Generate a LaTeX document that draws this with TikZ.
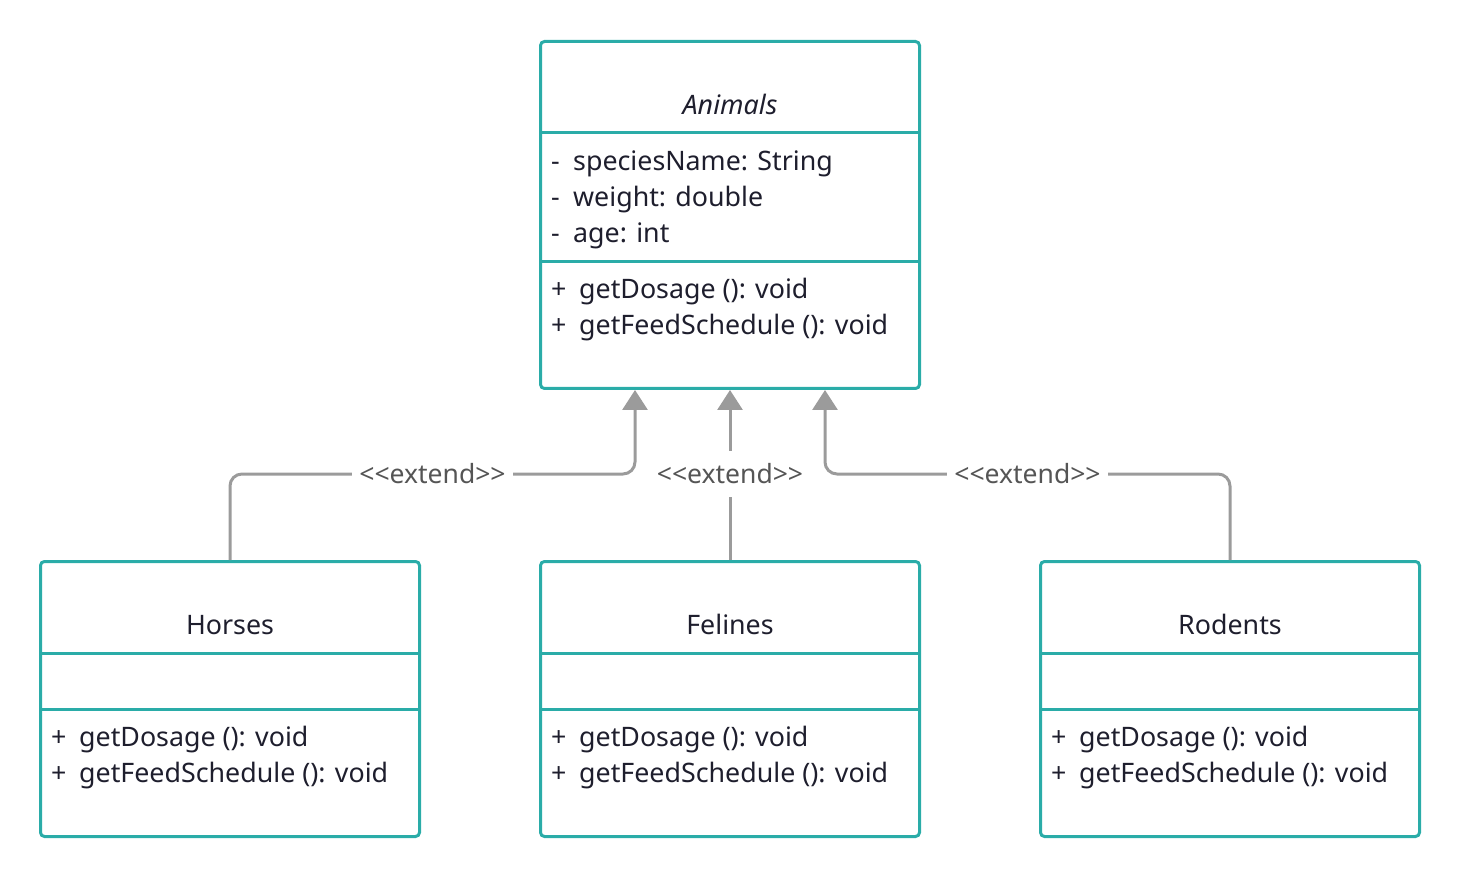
\documentclass[tikz,border=0pt]{standalone}
\usepackage{fontspec}
\setmainfont{Noto Sans}
\usetikzlibrary{positioning}
\usetikzlibrary{arrows.meta}
\usetikzlibrary{calc}
\definecolor{umlteal}{RGB}{42,172,168}
\definecolor{linkgray}{RGB}{155,155,155}
\definecolor{labelgray}{RGB}{85,85,85}
\definecolor{textdark}{RGB}{30,30,45}

\begin{document}
\begin{tikzpicture}[x = 1pt, y = -1pt,
  classbox/.style = {draw = umlteal, line width = 3pt, rounded corners = 4pt, minimum width = 379pt, inner sep = 0pt},
  divider/.style = {draw = umlteal, line width = 3pt},
  member/.style = {anchor = base west, inner sep = 0pt, text = textdark, font = \fontsize{26.8}{30}\selectfont},
  classname/.style = {anchor = base, inner sep = 0pt, text = textdark, font = \fontsize{26.8}{30}\selectfont},
  extendline/.style = {draw = linkgray, line width = 3pt, rounded corners = 12pt},
  extendlabel/.style = {fill = white, text = labelgray, inner xsep = 7pt, inner ysep = 13pt, font = \fontsize{26.5}{28}\selectfont}]

\useasboundingbox (1,0) rectangle (1461,877);

\node[classbox, minimum height = 347pt, anchor = north west] (animals) at (540,40) {};
\node[classbox, minimum height = 275pt, below = 170pt of animals] (felines) {};
\node[classbox, minimum height = 275pt, left = 118pt of felines] (horses) {};
\node[classbox, minimum height = 275pt, right = 118pt of felines] (rodents) {};

\draw[divider] ([yshift = -92.5pt]animals.north west) -- ([yshift = -92.5pt]animals.north east);
\draw[divider] ([yshift = -221.5pt]animals.north west) -- ([yshift = -221.5pt]animals.north east);

\node[classname] (animals-name) at ([yshift = -74.5pt]animals.north) {\itshape Animals};
\node[member] (animals-a1) at ([xshift = 12pt, yshift = -130.5pt]animals.north west) {\makebox[22pt][l]{-}speciesName: String};
\node[member] (animals-a2) at ([xshift = 12pt, yshift = -166.5pt]animals.north west) {\makebox[22pt][l]{-}weight: double};
\node[member] (animals-a3) at ([xshift = 12pt, yshift = -202.5pt]animals.north west) {\makebox[22pt][l]{-}age: int};
\node[member] (animals-m1) at ([xshift = 12pt, yshift = -258.5pt]animals.north west) {\makebox[28pt][l]{+}getDosage (): void};
\node[member] (animals-m2) at ([xshift = 12pt, yshift = -294.5pt]animals.north west) {\makebox[28pt][l]{+}getFeedSchedule (): void};

\foreach \cls/\name in {horses/Horses, felines/Felines, rodents/Rodents} {
  \draw[divider] ([yshift = -93.5pt]\cls.north west) -- ([yshift = -93.5pt]\cls.north east);
  \draw[divider] ([yshift = -149.5pt]\cls.north west) -- ([yshift = -149.5pt]\cls.north east);
  \node[classname] (\cls-name) at ([yshift = -74.5pt]\cls.north) {\name};
  \node[member] (\cls-m1) at ([xshift = 12pt, yshift = -186.5pt]\cls.north west) {\makebox[28pt][l]{+}getDosage (): void};
  \node[member] (\cls-m2) at ([xshift = 12pt, yshift = -222.5pt]\cls.north west) {\makebox[28pt][l]{+}getFeedSchedule (): void};
}

\coordinate (tipL) at ([xshift = -95pt]animals.south);
\coordinate (tipM) at (animals.south);
\coordinate (tipR) at ([xshift = 95pt]animals.south);
\coordinate (elbow) at (0,474);

\draw[extendline, -{Triangle[length = 20pt, width = 25pt]}] (horses.north) -- (horses.north |- elbow) -- (tipL |- elbow) -- (tipL);
\draw[extendline, -{Triangle[length = 20pt, width = 25pt]}] (felines.north) -- (tipM);
\draw[extendline, -{Triangle[length = 20pt, width = 25pt]}] (rodents.north) -- (rodents.north |- elbow) -- (tipR |- elbow) -- (tipR);

\node[extendlabel] (extend-h) at ($(horses.north |- elbow)!0.5!(tipL |- elbow)$) {{<}{<}extend{>}{>}};
\node[extendlabel] (extend-f) at (tipM |- elbow) {{<}{<}extend{>}{>}};
\node[extendlabel] (extend-r) at ($(rodents.north |- elbow)!0.5!(tipR |- elbow)$) {{<}{<}extend{>}{>}};

\end{tikzpicture}
\end{document}
